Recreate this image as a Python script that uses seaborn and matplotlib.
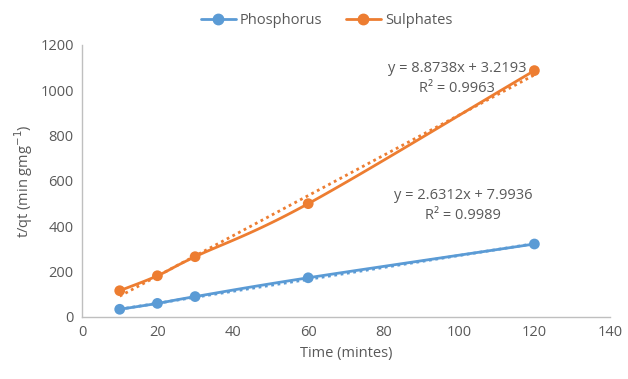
import matplotlib
matplotlib.use("Agg")
import matplotlib.pyplot as plt
import numpy as np
import pandas as pd
import seaborn as sns

time_min = [10, 20, 30, 60, 120]
phosphorus = [34, 60, 90, 173, 322]
sulphates = [116, 182, 266, 500, 1087]

# Excel linear trendline coefficients shown on the chart
fit_p = (2.6312, 7.9936, 0.9989)
fit_s = (8.8738, 3.2193, 0.9963)

BLUE = "#5B9BD5"
ORANGE = "#ED7D31"
GREY = "#595959"

sns.set_theme(style="white")
plt.rcParams["font.family"] = ["Open Sans", "DejaVu Sans"]


def smooth(x, y, n=30):
    # Catmull-Rom curve through the points, like Excel's "smoothed line"
    x = np.asarray(x, float)
    y = np.asarray(y, float)
    px = np.concatenate([[2 * x[0] - x[1]], x, [2 * x[-1] - x[-2]]])
    py = np.concatenate([[2 * y[0] - y[1]], y, [2 * y[-1] - y[-2]]])
    xs, ys = [], []
    for i in range(1, len(px) - 2):
        t = np.linspace(0, 1, n)
        for arr, out in ((px, xs), (py, ys)):
            p0, p1, p2, p3 = arr[i - 1], arr[i], arr[i + 1], arr[i + 2]
            out.extend(0.5 * (2 * p1 + (-p0 + p2) * t
                              + (2 * p0 - 5 * p1 + 4 * p2 - p3) * t ** 2
                              + (-p0 + 3 * p1 - 3 * p2 + p3) * t ** 3))
    return np.array(xs), np.array(ys)


fig = plt.figure(figsize=(6.28, 3.79), dpi=100)
ax = fig.add_axes([0.1306, 0.1636, 0.8404, 0.7177])

df = pd.DataFrame({"time": time_min, "Phosphorus": phosphorus, "Sulphates": sulphates})

for name, col, fit in (("Phosphorus", BLUE, fit_p), ("Sulphates", ORANGE, fit_s)):
    sx, sy = smooth(df["time"], df[name])
    ax.plot(sx, sy, color=col, lw=2, zorder=3)
    sns.scatterplot(x=df["time"], y=df[name], color=col, s=60, edgecolor="none",
                    ax=ax, zorder=4)
    tx = np.array([time_min[0], time_min[-1]])
    ax.plot(tx, fit[0] * tx + fit[1], color=col, lw=2, ls=(0, (1, 1.3)), zorder=2)

eq_kw = dict(ha="center", va="center", fontsize=10.5, color=GREY)
ax.text(99.5, 1098, f"y = {fit_s[0]}x + {fit_s[1]}", **eq_kw)
ax.text(99.5, 1010, f"R² = {fit_s[2]}", **eq_kw)
ax.text(101, 534, f"y = {fit_p[0]}x + {fit_p[1]}", **eq_kw)
ax.text(101, 446, f"R² = {fit_p[2]}", **eq_kw)

ax.set_xlim(0, 140)
ax.set_ylim(0, 1200)
ax.set_xticks(range(0, 141, 20))
ax.set_yticks(range(0, 1201, 200))
ax.tick_params(axis="both", labelsize=10.5, colors=GREY, length=0, pad=6)
ax.set_xlabel("Time (mintes)", fontsize=10.5, color=GREY)
ax.set_ylabel("t/qt (min gmg$^{-1}$)", fontsize=10.5, color=GREY)
for s in ("top", "right"):
    ax.spines[s].set_visible(False)
for s in ("left", "bottom"):
    ax.spines[s].set_color("#BFBFBF")
    ax.spines[s].set_linewidth(1)

handles = [plt.Line2D([], [], color=c, lw=2, marker="o", ms=7.5) for c in (BLUE, ORANGE)]
fig.legend(handles, ["Phosphorus", "Sulphates"], loc="upper center", bbox_to_anchor=(0.52, 1.0),
           ncol=2, frameon=False, fontsize=10.5, labelcolor=GREY, handlelength=2.4,
           handletextpad=0.3, columnspacing=1.6)

fig.savefig("out.png", dpi=100)
